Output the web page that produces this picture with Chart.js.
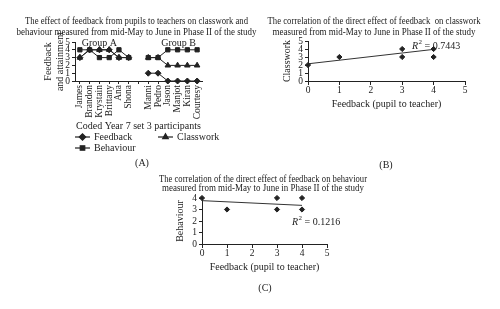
<!DOCTYPE html>
<html>
<head>
<meta charset="utf-8">
<script src="https://cdn.jsdelivr.net/npm/chart.js@4/dist/chart.umd.min.js"></script>
<style>
  body { margin: 0; background: #fff; width: 500px; height: 309px; position: relative; overflow: hidden; }
  canvas { position: absolute; }
  #chartA { left: 0; top: 0; }
  #chartB { left: 255px; top: 0; }
  #chartC { left: 115px; top: 165px; }
</style>
</head>
<body>
<canvas id="chartA" width="275" height="175"></canvas>
<canvas id="chartB" width="245" height="175"></canvas>
<canvas id="chartC" width="260" height="144"></canvas>
<script>
// Panel A data (blank category separates group A and group B)
const participants = ['James', 'Brandon', 'Krystain', 'Brittany', 'Ana', 'Shona', '', 'Manni', 'Pedro', 'Jason', 'Manjot', 'Kiran', 'Courtesy'];
const feedback = [3, 4, 4, 4, 3, 3, null, 1, 1, 0, 0, 0, 0];
const classwork = [3, 4, 4, 4, 3, 3, null, 3, 3, 2, 2, 2, 2];
const behaviour = [4, 4, 3, 3, 4, 3, null, 3, 3, 4, 4, 4, 4];

// Panel B data
const feedbackB = [0, 1, 3, 3, 4, 4];
const classworkB = [2, 3, 3, 4, 4, 3];
const trendXB = [0, 4];
const trendYB = [2.15, 3.95];

// Panel C data
const feedbackC = [0, 1, 3, 3, 4, 4];
const behaviourC = [4, 3, 4, 3, 4, 3];
const trendXC = [0, 4];
const trendYC = [3.77, 3.36];

const serif = "'Liberation Serif', 'DejaVu Serif', serif";
Chart.defaults.font.family = serif;
Chart.defaults.color = '#222';
Chart.defaults.animation = false;
Chart.defaults.plugins.legend.display = false;
Chart.defaults.plugins.tooltip.enabled = false;

const tickFont = { family: serif, size: 9.5 };
const axisGrid = { drawOnChartArea: false, drawTicks: true, tickLength: 3, color: '#222' };
const axisBorder = { color: '#222', width: 1 };

function toPoints(xs, ys) {
    return xs.map((x, i) => ({ x: x, y: ys[i] }));
}

// titles are drawn by hand so they are not squeezed into the padded box
function drawTitle(ctx, lines, cx, ys, widths) {
    ctx.save();
    ctx.fillStyle = '#222';
    ctx.font = '10px ' + serif;
    ctx.textAlign = 'center';
    ctx.textBaseline = 'middle';
    lines.forEach((t, i) => ctx.fillText(t, cx, ys[i], widths[i]));
    ctx.restore();
}

function drawR2(ctx, x, y, value) {
    ctx.save();
    ctx.fillStyle = '#222';
    ctx.textBaseline = 'middle';
    ctx.textAlign = 'left';
    ctx.font = 'italic 10px ' + serif;
    ctx.fillText('R', x, y);
    let w = ctx.measureText('R').width;
    ctx.font = '7px ' + serif;
    ctx.fillText('2', x + w + 0.5, y - 4);
    ctx.font = '10px ' + serif;
    ctx.fillText(' = ' + value, x + w + 4, y);
    ctx.restore();
}

function drawLabel(ctx, text, x, y, size) {
    ctx.save();
    ctx.fillStyle = '#222';
    ctx.font = size + 'px ' + serif;
    ctx.textAlign = 'center';
    ctx.textBaseline = 'middle';
    ctx.fillText(text, x, y);
    ctx.restore();
}

function legendItem(ctx, style, x, y, text) {
    ctx.save();
    ctx.strokeStyle = '#222';
    ctx.fillStyle = '#222';
    ctx.lineWidth = 1.2;
    ctx.beginPath();
    ctx.moveTo(x, y);
    ctx.lineTo(x + 15, y);
    ctx.stroke();
    Chart.helpers.drawPoint(ctx, { pointStyle: style, radius: 3.2, rotation: 0, borderWidth: 1 }, x + 7.5, y);
    ctx.font = '10px ' + serif;
    ctx.textBaseline = 'middle';
    ctx.fillText(text, x + 19, y);
    ctx.restore();
}

// Panel A: line chart by participant
new Chart('chartA', {
    type: 'line',
    data: {
        labels: participants,
        datasets: [{
            label: 'Feedback',
            data: feedback,
            pointStyle: 'rectRot',
            pointRadius: 3
        }, {
            label: 'Classwork',
            data: classwork,
            pointStyle: 'triangle',
            pointRadius: 3.2
        }, {
            label: 'Behaviour',
            data: behaviour,
            pointStyle: 'rect',
            pointRadius: 3
        }].map(d => Object.assign(d, {
            borderColor: '#222',
            backgroundColor: '#222',
            borderWidth: 1,
            spanGaps: false,
            tension: 0,
            clip: false
        }))
    },
    options: {
        responsive: false,
        layout: { padding: { left: 43, right: 73, top: 42, bottom: 39 } },
        scales: {
            x: {
                offset: true,
                grid: Object.assign({}, axisGrid, { offset: false }),
                border: axisBorder,
                ticks: { font: tickFont, minRotation: 90, maxRotation: 90, autoSkip: false, padding: 1 },
                title: { display: true, text: 'Coded Year 7 set 3 participants', font: { family: serif, size: 10 }, padding: { top: 0, bottom: 4 } },
                afterFit: s => { s.height = 55; }
            },
            y: {
                min: 0,
                max: 5,
                grid: axisGrid,
                border: axisBorder,
                ticks: { font: tickFont, stepSize: 1, autoSkip: false, padding: 2 },
                title: { display: true, text: ['Feedback', 'and attainment'], font: { family: serif, size: 10, lineHeight: 1.15 }, padding: 0 },
                afterFit: s => { s.width = 32; }
            }
        }
    },
    plugins: [{
        id: 'panelA',
        afterDraw(chart) {
            const ctx = chart.ctx;
            const x = chart.scales.x;
            drawTitle(ctx, ['The effect of feedback from pupils to teachers on classwork and',
                            'behaviour measured from mid-May to June in Phase II of the study'],
                      136.5, [21.7, 32], [223, 240]);
            drawLabel(ctx, 'Group A', x.getPixelForValue(2), 43, 10);
            drawLabel(ctx, 'Group B', x.getPixelForValue(10) + 1, 43, 10);
            legendItem(ctx, 'rectRot', 75, 137, 'Feedback');
            legendItem(ctx, 'triangle', 158, 137, 'Classwork');
            legendItem(ctx, 'rect', 75, 148, 'Behaviour');
            drawLabel(ctx, '(A)', 142, 163, 10);
        }
    }]
});

function scatterOptions(cfg) {
    return {
        responsive: false,
        layout: { padding: cfg.padding },
        scales: {
            x: {
                type: 'linear',
                min: 0,
                max: 5,
                grid: Object.assign({}, axisGrid, { tickLength: 4 }),
                border: axisBorder,
                ticks: { font: tickFont, stepSize: 1, padding: 0, maxRotation: 0 },
                title: { display: true, text: 'Feedback (pupil to teacher)', font: { family: serif, size: 10 }, padding: { top: 0, bottom: 3 } },
                afterFit: s => { s.height = 32; }
            },
            y: {
                min: 0,
                max: cfg.yMax,
                grid: axisGrid,
                border: axisBorder,
                ticks: { font: tickFont, stepSize: 1, autoSkip: false, padding: 2 },
                title: { display: true, text: cfg.yTitle, font: { family: serif, size: 10 }, padding: 0 },
                afterFit: s => { s.width = cfg.yWidth; }
            }
        }
    };
}

function scatterData(xs, ys, tx, ty) {
    return {
        datasets: [{
            type: 'scatter',
            data: toPoints(xs, ys),
            pointStyle: 'rectRot',
            pointRadius: 2.6,
            backgroundColor: '#222',
            borderColor: '#222',
            borderWidth: 1,
            clip: false
        }, {
            type: 'line',
            data: toPoints(tx, ty),
            borderColor: '#333',
            borderWidth: 1,
            pointRadius: 0,
            tension: 0,
            clip: false
        }]
    };
}

// Panel B: classwork vs feedback
new Chart('chartB', {
    type: 'scatter',
    data: scatterData(feedbackB, classworkB, trendXB, trendYB),
    options: scatterOptions({
        padding: { left: 26, right: 35, top: 41, bottom: 62 },
        yMax: 5,
        yTitle: 'Classwork',
        yWidth: 27
    }),
    plugins: [{
        id: 'panelB',
        afterDraw(chart) {
            drawTitle(chart.ctx, ['The correlation of the direct effect of feedback  on classwork',
                                  'measured from mid-May to June in Phase II of the study'],
                      119, [21.7, 32], [213, 203]);
            drawR2(chart.ctx, 157, 46, '0.7443');
            drawLabel(chart.ctx, '(B)', 131, 165, 10);
        }
    }]
});

// Panel C: behaviour vs feedback
new Chart('chartC', {
    type: 'scatter',
    data: scatterData(feedbackC, behaviourC, trendXC, trendYC),
    options: scatterOptions({
        padding: { left: 59, right: 48, top: 33, bottom: 33 },
        yMax: 4,
        yTitle: 'Behaviour',
        yWidth: 28
    }),
    plugins: [{
        id: 'panelC',
        afterDraw(chart) {
            drawTitle(chart.ctx, ['The correlation of the direct effect of feedback on behaviour',
                                  'measured from mid-May to June in Phase II of the study'],
                      148, [14.5, 23.5], [208, 202]);
            drawR2(chart.ctx, 177, 57, '0.1216');
            drawLabel(chart.ctx, '(C)', 150, 123, 10);
        }
    }]
});
</script>
</body>
</html>
